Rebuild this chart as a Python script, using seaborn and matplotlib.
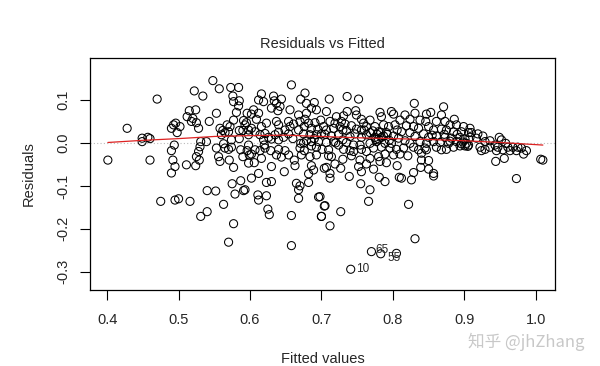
"""
Residuals vs Fitted diagnostic plot (R plot.lm style) redrawn with seaborn
"""

import matplotlib
matplotlib.use('Agg')
import matplotlib.pyplot as plt
import seaborn as sns
import numpy as np
import pandas as pd

# ── data ────────────────────────────────────────────────────────────────
# fitted values below 0.50
fit_a = [0.401, 0.428, 0.449, 0.449, 0.457, 0.460, 0.460, 0.470, 0.475, 0.490, 0.495]
res_a = [-0.040, 0.034, 0.011, 0.003, 0.013, 0.010, -0.040, 0.102, -0.136, -0.070, -0.133]

# 0.49 - 0.60, upper part
fit_b = [0.548, 0.522, 0.557, 0.534, 0.573, 0.584, 0.576, 0.577, 0.585, 0.584, 0.581,
         0.515, 0.524, 0.512, 0.520, 0.518, 0.525, 0.528, 0.543, 0.553, 0.577, 0.591,
         0.593, 0.595, 0.496, 0.493, 0.502, 0.498, 0.490, 0.568, 0.572, 0.558, 0.562,
         0.560, 0.565, 0.570, 0.585, 0.590, 0.598, 0.574, 0.563, 0.539, 0.531, 0.530,
         0.528, 0.525, 0.529, 0.524, 0.511, 0.494, 0.490, 0.495, 0.492, 0.553, 0.565,
         0.570, 0.574, 0.556, 0.558, 0.571, 0.577, 0.587, 0.590, 0.596, 0.599, 0.596]
res_b = [0.145, 0.121, 0.126, 0.109, 0.129, 0.129, 0.109, 0.096, 0.098, 0.086, 0.071,
         0.075, 0.077, 0.061, 0.057, 0.050, 0.047, 0.034, 0.050, 0.069, 0.053, 0.052,
         0.042, 0.047, 0.046, 0.042, 0.038, 0.024, 0.034, 0.042, 0.038, 0.034, 0.029,
         0.019, 0.024, 0.026, 0.029, 0.029, 0.030, 0.007, -0.002, 0.003, 0.003, -0.009,
         -0.020, -0.032, -0.040, -0.053, -0.051, -0.005, -0.018, -0.055, -0.040, -0.012, -0.012,
         -0.015, -0.010, -0.032, -0.043, -0.040, -0.057, -0.016, -0.032, -0.018, -0.028, 0.069]

# 0.49 - 0.60, lower tail
fit_c = [0.575, 0.587, 0.579, 0.591, 0.540, 0.552, 0.500, 0.516, 0.563, 0.540, 0.531,
         0.577, 0.570]
res_c = [-0.095, -0.088, -0.119, -0.111, -0.111, -0.112, -0.130, -0.136, -0.143, -0.160, -0.171,
         -0.188, -0.231]

# 0.59 - 0.71, upper part
fit_d = [0.658, 0.616, 0.612, 0.619, 0.633, 0.634, 0.637, 0.644, 0.642, 0.630, 0.639,
         0.656, 0.677, 0.671, 0.679, 0.690, 0.686, 0.693, 0.679, 0.668, 0.605, 0.602,
         0.612, 0.609, 0.602, 0.616, 0.623, 0.640, 0.637, 0.654, 0.661, 0.656, 0.649,
         0.670, 0.677, 0.682, 0.691, 0.699, 0.676, 0.668, 0.686, 0.695, 0.703, 0.607,
         0.614, 0.621, 0.626, 0.619, 0.630, 0.635, 0.640, 0.647, 0.654, 0.598, 0.675,
         0.684, 0.693, 0.700, 0.679, 0.671, 0.686, 0.696, 0.598, 0.607, 0.602, 0.614,
         0.621, 0.629, 0.640, 0.637, 0.644, 0.654, 0.649, 0.670, 0.676, 0.686, 0.693,
         0.701, 0.672, 0.684, 0.693, 0.606, 0.616, 0.598, 0.630, 0.648, 0.662, 0.663,
         0.686, 0.689, 0.704, 0.612]
res_d = [0.135, 0.114, 0.100, 0.096, 0.109, 0.098, 0.092, 0.102, 0.085, 0.081, 0.075,
         0.077, 0.116, 0.102, 0.092, 0.094, 0.081, 0.077, 0.069, 0.065, 0.077, 0.067,
         0.069, 0.055, 0.034, 0.038, 0.046, 0.042, 0.050, 0.050, 0.044, 0.038, 0.030,
         0.050, 0.055, 0.046, 0.047, 0.053, 0.038, 0.030, 0.034, 0.032, 0.038, 0.026,
         0.019, 0.022, 0.013, 0.007, 0.009, 0.019, 0.007, 0.013, 0.021, 0.019, 0.021,
         0.019, 0.019, 0.021, 0.005, -0.001, 0.003, 0.003, -0.005, -0.016, -0.026, -0.018,
         -0.012, -0.018, -0.015, -0.028, -0.033, -0.028, -0.018, -0.012, -0.018, -0.007, -0.010,
         -0.015, -0.028, -0.032, -0.028, -0.046, -0.036, -0.047, -0.055, -0.067, -0.040, -0.053,
         -0.053, -0.063, -0.059, -0.071]

# 0.59 - 0.71, lower tail
fit_e = [0.602, 0.682, 0.623, 0.630, 0.665, 0.670, 0.668, 0.682, 0.593, 0.611, 0.612,
         0.623, 0.668, 0.696, 0.704, 0.625, 0.627, 0.658, 0.700, 0.658]
res_e = [-0.082, -0.072, -0.092, -0.090, -0.094, -0.100, -0.109, -0.092, -0.109, -0.121, -0.133,
         -0.123, -0.129, -0.126, -0.147, -0.154, -0.167, -0.169, -0.171, -0.239]

# 0.70 - 0.81, upper part
fit_f = [0.736, 0.752, 0.711, 0.707, 0.721, 0.731, 0.736, 0.748, 0.749, 0.756, 0.768,
         0.759, 0.782, 0.784, 0.798, 0.801, 0.712, 0.719, 0.728, 0.733, 0.742, 0.717,
         0.726, 0.707, 0.735, 0.749, 0.756, 0.763, 0.775, 0.787, 0.794, 0.803, 0.806,
         0.768, 0.780, 0.791, 0.714, 0.724, 0.730, 0.740, 0.747, 0.756, 0.763, 0.775,
         0.780, 0.784, 0.801, 0.808, 0.707, 0.717, 0.724, 0.735, 0.745, 0.754, 0.768,
         0.777, 0.789, 0.798, 0.710, 0.731, 0.740, 0.756, 0.763, 0.773, 0.784, 0.796,
         0.805, 0.714, 0.730, 0.742, 0.754, 0.768, 0.780, 0.789, 0.801, 0.719, 0.727,
         0.707, 0.752, 0.763, 0.773, 0.782, 0.791, 0.806, 0.756]
res_f = [0.108, 0.102, 0.102, 0.073, 0.061, 0.063, 0.073, 0.075, 0.065, 0.055, 0.053,
         0.046, 0.071, 0.061, 0.073, 0.067, 0.050, 0.046, 0.050, 0.044, 0.040, 0.034,
         0.038, 0.030, 0.029, 0.032, 0.030, 0.038, 0.038, 0.042, 0.038, 0.042, 0.030,
         0.024, 0.026, 0.024, 0.016, 0.019, 0.007, 0.015, 0.021, 0.013, 0.019, 0.013,
         0.009, 0.013, 0.016, 0.011, 0.001, 0.003, -0.005, 0.001, -0.005, -0.005, -0.001,
         0.003, -0.001, -0.001, -0.016, -0.015, -0.018, -0.015, -0.020, -0.012, -0.010, -0.012,
         -0.015, -0.032, -0.038, -0.030, -0.040, -0.036, -0.032, -0.026, -0.028, -0.049, -0.059,
         -0.057, -0.055, -0.049, -0.061, -0.043, -0.046, -0.053, -0.067]

# 0.70 - 0.86, lower tail
fit_g = [0.712, 0.712, 0.739, 0.755, 0.781, 0.789, 0.809, 0.768, 0.766, 0.698, 0.705,
         0.700, 0.712, 0.727, 0.812, 0.826, 0.857, 0.822, 0.831]
res_g = [-0.071, -0.082, -0.078, -0.095, -0.080, -0.090, -0.080, -0.109, -0.136, -0.125, -0.146,
         -0.171, -0.193, -0.160, -0.082, -0.086, -0.077, -0.143, -0.223]

# 0.80 - 0.91
fit_h = [0.830, 0.871, 0.817, 0.831, 0.847, 0.853, 0.868, 0.886, 0.810, 0.824, 0.838,
         0.846, 0.861, 0.873, 0.880, 0.889, 0.899, 0.908, 0.819, 0.829, 0.836, 0.850,
         0.857, 0.868, 0.875, 0.885, 0.896, 0.906, 0.812, 0.824, 0.843, 0.831, 0.850,
         0.861, 0.873, 0.882, 0.894, 0.901, 0.908, 0.817, 0.824, 0.838, 0.847, 0.857,
         0.866, 0.878, 0.889, 0.896, 0.906, 0.815, 0.829, 0.836, 0.845, 0.861, 0.868,
         0.885, 0.894, 0.903, 0.810, 0.821, 0.840, 0.847, 0.875, 0.840, 0.850, 0.839,
         0.850, 0.829, 0.857, 0.901]
res_h = [0.092, 0.084, 0.065, 0.069, 0.067, 0.071, 0.065, 0.055, 0.053, 0.055, 0.053,
         0.050, 0.050, 0.050, 0.042, 0.042, 0.038, 0.034, 0.040, 0.038, 0.034, 0.038,
         0.030, 0.032, 0.030, 0.026, 0.026, 0.024, 0.026, 0.024, 0.021, 0.015, 0.013,
         0.016, 0.013, 0.011, 0.013, 0.009, 0.013, 0.005, -0.001, 0.003, -0.001, 0.003,
         0.001, -0.001, 0.003, -0.002, -0.005, -0.012, -0.010, -0.016, -0.012, -0.010, -0.016,
         -0.010, -0.007, -0.001, -0.026, -0.030, -0.024, -0.016, -0.015, -0.040, -0.041, -0.057,
         -0.061, -0.069, -0.071, -0.007]

# above 0.90
fit_i = [0.910, 0.919, 0.926, 0.917, 0.929, 0.936, 0.949, 0.952, 0.943, 0.922, 0.929,
         0.936, 0.947, 0.958, 0.961, 0.968, 0.975, 0.980, 0.987, 0.964, 0.973, 0.983,
         0.954, 0.945, 0.924, 0.956, 0.944, 1.007, 1.010, 0.973]
res_i = [0.024, 0.021, 0.016, 0.011, 0.003, 0.005, 0.013, 0.007, -0.005, -0.010, -0.015,
         -0.010, -0.010, -0.001, -0.010, -0.010, -0.010, -0.012, -0.018, -0.018, -0.018, -0.026,
         -0.016, -0.018, -0.018, -0.036, -0.043, -0.038, -0.040, -0.083]

# overlapping circles in the dark clumps of the central band
fit_j = [0.772, 0.778, 0.783, 0.787, 0.792, 0.776, 0.795, 0.872, 0.880, 0.890,
         0.898, 0.905, 0.640, 0.660, 0.675, 0.690, 0.705, 0.720, 0.710, 0.745,
         0.730, 0.620, 0.585, 0.760, 0.855]
res_j = [0.028, 0.020, 0.024, 0.016, 0.020, 0.008, 0.006, 0.020, 0.004, 0.020,
         0.002, -0.008, 0.025, 0.010, 0.000, 0.010, 0.020, 0.000, -0.030, -0.020,
         0.030, -0.005, 0.010, 0.030, 0.018]

# the three largest residuals and their case numbers
fit_out = [0.741, 0.770, 0.783]
res_out = [-0.294, -0.253, -0.258]
case_out = ['10', '65', '55']
fit_extra = [0.805]
res_extra = [-0.257]

# red smoother
smooth_x = [0.401, 0.45, 0.50, 0.55, 0.60, 0.65, 0.70, 0.75, 0.80, 0.85, 0.90, 0.95, 1.010]
smooth_y = [0.001, 0.006, 0.010, 0.015, 0.017, 0.018, 0.015, 0.012, 0.010, 0.008, 0.005, 0.001, -0.005]

df = pd.DataFrame({
    'fitted': (fit_a + fit_b + fit_c + fit_d + fit_e + fit_f + fit_g + fit_h + fit_i
               + fit_j + fit_out + fit_extra),
    'resid':  (res_a + res_b + res_c + res_d + res_e + res_f + res_g + res_h + res_i
               + res_j + res_out + res_extra),
})
smooth = pd.DataFrame({'fitted': smooth_x, 'resid': smooth_y})

# ── plot ────────────────────────────────────────────────────────────────
sns.set_style('white')
plt.rcParams['font.family'] = ['Liberation Sans', 'DejaVu Sans']

fig = plt.figure(figsize=(6, 3.66), dpi=100)
ax = fig.add_axes([0.150, 0.208, 0.775, 0.634])

ax.axhline(0, color='#bbbbbb', lw=0.8, ls=(0, (1, 2)), zorder=1)
sns.scatterplot(data=df, x='fitted', y='resid', ax=ax, marker='o', s=34,
                facecolor='none', edgecolor='black', linewidth=0.75, zorder=2)
sns.lineplot(data=smooth, x='fitted', y='resid', ax=ax, color='#dd2222', lw=0.9,
             sort=True, zorder=3)

# case labels to the right of the points (the last two sit close together)
lab_dx = [0.007, 0.006, 0.010]
lab_dy = [0.0, 0.004, -0.010]
for fx, ry, lab, dx, dy in zip(fit_out, res_out, case_out, lab_dx, lab_dy):
    ax.text(fx + dx, ry + dy, lab, fontsize=8.5, va='center', ha='left')

ax.set_xlim(0.376, 1.027)
ax.set_ylim(-0.342, 0.198)
ax.set_xticks([0.4, 0.5, 0.6, 0.7, 0.8, 0.9, 1.0])
ax.set_xticklabels(['0.4', '0.5', '0.6', '0.7', '0.8', '0.9', '1.0'])
ax.set_yticks([-0.3, -0.2, -0.1, 0.0, 0.1])
ax.set_yticklabels(['-0.3', '-0.2', '-0.1', '0.0', '0.1'], rotation=90, va='center')
ax.tick_params(axis='both', direction='out', length=7, width=0.8, labelsize=10.5,
               bottom=True, left=True, color='black')
ax.tick_params(axis='x', pad=10)
ax.tick_params(axis='y', pad=7)
for s in ax.spines.values():
    s.set_color('black')
    s.set_linewidth(0.9)

ax.set_xlabel('Fitted values', fontsize=10.5, labelpad=18)
ax.set_ylabel('Residuals', fontsize=10.5, labelpad=15)
ax.set_title('Residuals vs Fitted', fontsize=10.5, pad=7)

fig.text(0.975, 0.04, '知乎 @jhZhang', ha='right', va='bottom', fontsize=12,
         color='#c8c8c8', family=['Noto Sans CJK SC', 'DejaVu Sans'])

plt.savefig('out.png', dpi=100)
plt.close()
